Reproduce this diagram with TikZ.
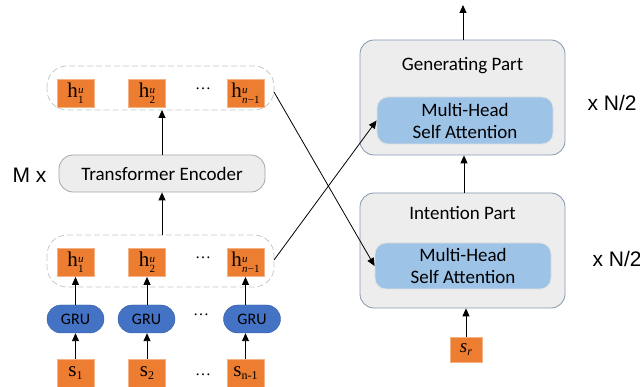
\documentclass[tikz,border=0pt]{standalone}
\usepackage{fontspec}
\setmainfont{Carlito}
\newfontfamily\timesf{Liberation Serif}
\newfontfamily\arialf{Liberation Sans}
\usetikzlibrary{arrows.meta}
\definecolor{orng}{HTML}{ED7D31}
\definecolor{orngb}{HTML}{F4B183}
\definecolor{grublue}{HTML}{4472C4}
\definecolor{mhblue}{HTML}{9DC3E6}
\definecolor{boxgray}{HTML}{EDEDED}
\definecolor{bordgray}{HTML}{8497B0}
\newcommand{\hlab}[1]{{\timesf h\kern0.3pt\raisebox{-6pt}{\fontsize{11}{11.5}\selectfont\shortstack[l]{\itshape u\\ #1}}}}
\newcommand{\slab}[1]{{\timesf s\raisebox{-3pt}{\fontsize{12}{12}\selectfont #1}}}
\tikzset{
  obox/.style={draw=orngb, fill=orng, line width=0.8pt, minimum width=37pt, minimum height=28pt, inner sep=0pt, font=\fontsize{21}{21}\selectfont},
  gru/.style={draw=grublue!80!black, fill=grublue, rounded corners=14pt, minimum width=57pt, minimum height=28pt, inner sep=0pt, font=\fontsize{16}{16}\selectfont},
  dashbox/.style={draw=black!22, dashed, dash pattern=on 6pt off 3pt, rounded corners=20pt, line width=0.8pt},
  graybox/.style={draw=bordgray, fill=boxgray, rounded corners=14pt, line width=0.8pt},
  mhbox/.style={draw=black!12, fill=mhblue, rounded corners=11pt, line width=0.8pt, align=center, font=\fontsize{19}{22}\selectfont},
  arr/.style={-{Triangle[length=8pt,width=7pt]}, line width=0.9pt},
  lbl/.style={font=\fontsize{19}{19}\selectfont},
  side/.style={font=\arialf\fontsize{21}{21}\selectfont},
  dots/.style={font=\timesf\fontsize{16}{16}\selectfont}
}
\begin{document}
\begin{tikzpicture}[x=1pt,y=-1pt]
\useasboundingbox (0,0) rectangle (640,387);
% dashed containers
\draw[dashbox] (47,66) rectangle (274,110);
\draw[dashbox] (47,235) rectangle (274,287);
% top h boxes
\node[obox] (th1) at (75.5,93.5) {\hlab{1}};
\node[obox] (th2) at (147,93.5) {\hlab{2}};
\node[dots] (tdots) at (203,89) {…};
\node[obox] (thn) at (245.5,93.5) {\hlab{{\itshape n}\kern0.3pt−1}};
% transformer encoder
\node[draw=black!35, fill=boxgray, rounded corners=14pt, line width=0.8pt, minimum width=206pt, minimum height=37pt, lbl] (te) at (162,173.5) {Transformer Encoder};
\node[side, anchor=east] (mx) at (50,175) {M x};
% bottom h boxes
\node[obox] (bh1) at (75.5,262.5) {\hlab{1}};
\node[obox] (bh2) at (147,262.5) {\hlab{2}};
\node[dots] (bdots) at (203,258) {…};
\node[obox] (bhn) at (245.5,262.5) {\hlab{{\itshape n}\kern0.3pt−1}};
% GRUs
\node[gru] (g1) at (75.5,319) {GRU};
\node[gru] (g2) at (146.5,319) {GRU};
\node[dots] (gdots) at (201,315) {…};
\node[gru] (g3) at (252,319) {GRU};
% s boxes
\node[obox] (s1) at (75.5,373) {\slab{1}};
\node[obox] (s2) at (147,373) {\slab{2}};
\node[dots] (sdots) at (203,375) {…};
\node[obox] (sn) at (245.5,373) {\slab{n-1}};
% arrows bottom-left
\draw[arr] (s1.north) -- (s1.north |- g1.south);
\draw[arr] (s2.north) -- (s2.north |- g2.south);
\draw[arr] (sn.north) -- (sn.north |- g3.south);
\draw[arr] (g1.north -| bh1.south) -- (bh1.south);
\draw[arr] (g2.north -| bh2.south) -- (bh2.south);
\draw[arr] (g3.north -| bhn.south) -- (bhn.south);
\coordinate (bdtop) at (162,235);
\coordinate (tdbot) at (162,110);
\draw[arr] (bdtop) -- (te.south);
\draw[arr] (te.north) -- (tdbot);
% right side
\node[graybox, minimum width=205pt, minimum height=115pt] (gen) at (462.5,97.5) {};
\node[lbl] (genl) at (462.5,66) {Generating Part};
\node[mhbox, minimum width=176pt, minimum height=47pt] (mh1) at (465,120.5) {Multi-Head\\Self Attention};
\node[side, anchor=west] (n1) at (584,103) {x N/2};
\node[graybox, minimum width=205pt, minimum height=115pt] (int) at (462.5,250.5) {};
\node[lbl] (intl) at (462.5,213) {Intention Part};
\node[mhbox, minimum width=176pt, minimum height=46pt] (mh2) at (463,266) {Multi-Head\\Self Attention};
\node[side, anchor=west] (n2) at (589,259) {x N/2};
\node[obox, minimum width=32pt, minimum height=25pt, font=\timesf\fontsize{19}{19}\selectfont] (sr) at (466,349.5) {\itshape s\raisebox{-3pt}{\fontsize{12}{12}\selectfont r}};
\coordinate (outtop) at (463,5);
\draw[arr] (sr.north) -- (sr.north |- int.south);
\draw[arr] (int.north -| 464,0) -- (gen.south -| 464,0);
\draw[arr] (gen.north -| outtop) -- (outtop);
% crossing lines
\coordinate (ta) at (274,92);
\coordinate (ba) at (274,260);
\draw[arr, line width=0.8pt] (ta) -- (mh2.west);
\draw[arr, line width=0.8pt] (ba) -- (mh1.west);
\end{tikzpicture}
\end{document}
